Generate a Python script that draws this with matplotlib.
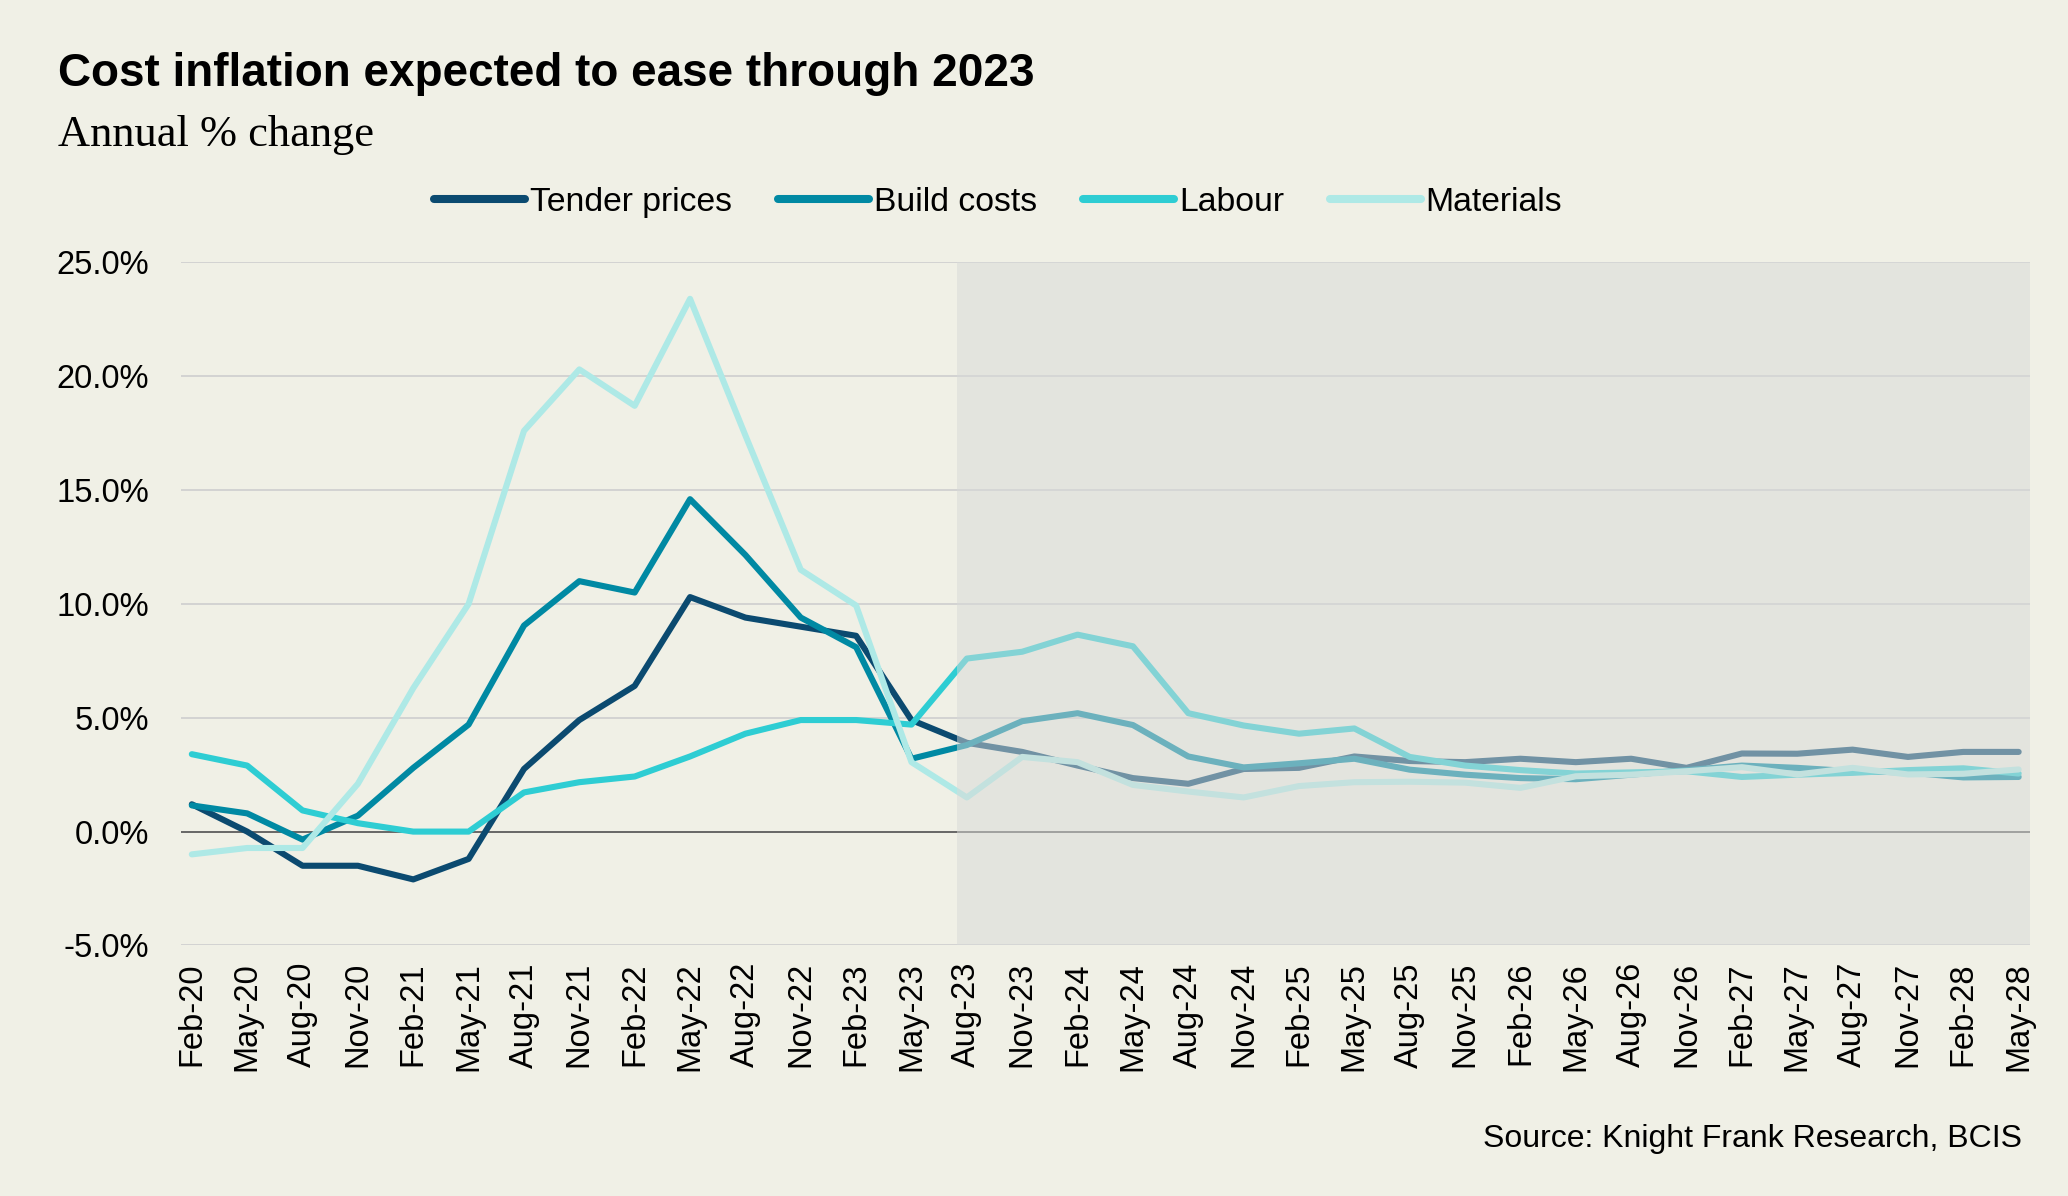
import numpy as np
import matplotlib.pyplot as plt

# quarterly labels Feb-20 .. May-28
dates = ["Feb-20", "May-20", "Aug-20", "Nov-20",
         "Feb-21", "May-21", "Aug-21", "Nov-21",
         "Feb-22", "May-22", "Aug-22", "Nov-22",
         "Feb-23", "May-23", "Aug-23", "Nov-23",
         "Feb-24", "May-24", "Aug-24", "Nov-24",
         "Feb-25", "May-25", "Aug-25", "Nov-25",
         "Feb-26", "May-26", "Aug-26", "Nov-26",
         "Feb-27", "May-27", "Aug-27", "Nov-27",
         "Feb-28", "May-28"]

tender = [1.2, 0.0, -1.5, -1.5, -2.1, -1.2, 2.75, 4.9, 6.4, 10.3, 9.4, 9.0,
          8.6, 4.9, 3.9, 3.5, 2.9, 2.35, 2.1, 2.75, 2.8, 3.3, 3.1, 3.05,
          3.2, 3.05, 3.2, 2.8, 3.43, 3.42, 3.6, 3.28, 3.5, 3.5]
build = [1.15, 0.8, -0.35, 0.7, 2.8, 4.7, 9.05, 11.0, 10.5, 14.6, 12.15, 9.4,
         8.1, 3.2, 3.8, 4.85, 5.2, 4.68, 3.3, 2.82, 3.0, 3.2, 2.72, 2.5,
         2.35, 2.3, 2.5, 2.7, 2.9, 2.8, 2.65, 2.6, 2.38, 2.4]
labour = [3.4, 2.9, 0.93, 0.37, 0.0, 0.0, 1.72, 2.17, 2.42, 3.3, 4.3, 4.9,
          4.9, 4.7, 7.6, 7.9, 8.65, 8.14, 5.2, 4.66, 4.3, 4.53, 3.28, 2.9,
          2.7, 2.55, 2.6, 2.65, 2.4, 2.5, 2.58, 2.7, 2.78, 2.55]
materials = [-1.0, -0.72, -0.72, 2.1, 6.3, 10.0, 17.6, 20.3, 18.7, 23.4, 17.4, 11.5,
             9.93, 3.05, 1.5, 3.28, 3.05, 2.05, 1.76, 1.5, 2.0, 2.17, 2.19, 2.15,
             1.92, 2.43, 2.5, 2.65, 2.83, 2.51, 2.8, 2.51, 2.54, 2.73]

names = ["Tender prices", "Build costs", "Labour", "Materials"]
colors = ["#0b4a70", "#0089a3", "#2ecdd3", "#aee9e6"]
forecast_start = "Aug-23"

bg = "#f0f0e6"
plt.rcParams["font.family"] = ["Liberation Sans", "DejaVu Sans"]

fig = plt.figure(figsize=(20.68, 11.96), dpi=100, facecolor=bg)
ax = fig.add_axes([0.0874, 0.2095, 0.8941, 0.5711], facecolor=bg)

x = np.arange(len(dates))
for i, (vals, name, c) in enumerate(zip([tender, build, labour, materials], names, colors)):
    ax.plot(x, vals, color=c, lw=4.4, label=name, zorder=3 + i * 0.1,
            solid_capstyle="round", solid_joinstyle="round")

ax.axhline(0, color="#555555", lw=1.2, zorder=2.5)

# forecast shading drawn over the lines
fs = dates.index(forecast_start)
ax.axvspan(fs - 0.18, len(dates) - 0.8, color="#d8dad8", alpha=0.5, lw=0, zorder=5)

ax.set_xlim(-0.2, len(dates) - 0.8)
ax.set_ylim(-5, 25)
ax.set_yticks(np.arange(-5, 26, 5))
ax.set_yticklabels([f"{v:.1f}%" for v in np.arange(-5, 26, 5)])
ax.set_xticks(x)
ax.set_xticklabels(dates, rotation=90)
ax.yaxis.grid(True, color="#d0d0d0", lw=1.3, zorder=1)
ax.set_axisbelow(True)
for s in ax.spines.values():
    s.set_visible(False)
ax.tick_params(axis="y", length=0, pad=23, labelsize=23.5)
ax.tick_params(axis="x", length=0, pad=12, labelsize=23.5)

fig.text(0.028, 0.928, "Cost inflation expected to ease through 2023",
         fontsize=33, fontweight="bold", va="baseline")
fig.text(0.028, 0.878, "Annual % change", fontsize=32,
         family=["Liberation Serif", "DejaVu Serif"], va="baseline")
fig.text(0.9777, 0.041, "Source: Knight Frank Research, BCIS", fontsize=23,
         ha="right", va="baseline")

leg = fig.legend(loc="center", bbox_to_anchor=(0.4827, 0.8305), ncol=4,
                 frameon=False, fontsize=24.3, handlelength=2.7,
                 handletextpad=0.15, columnspacing=1.35)
for h in leg.get_lines():
    h.set_linewidth(5.8)
    h.set_solid_capstyle("round")

fig.savefig("out.png", dpi=100, facecolor=bg)
